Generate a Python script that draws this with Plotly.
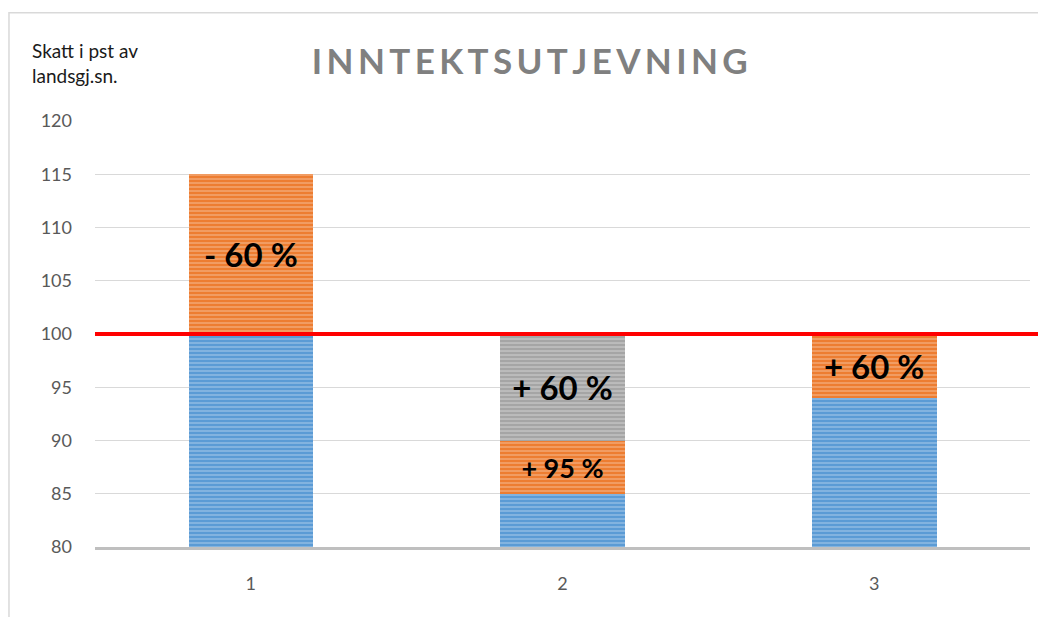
import plotly.graph_objects as go

CATEGORIES = ["1", "2", "3"]
BASE = [100, 85, 94]
ORANGE = [15, 5, 6]
GRAY = [0, 10, 0]
ORANGE_LABELS = ["- 60 %", "+ 95 %", "+ 60 %"]
GRAY_LABELS = ["", "+ 60 %", ""]
Y_TICKS = [80, 85, 90, 95, 100, 105, 110, 115, 120]
LEVEL = 100

TITLE = "INNTEKTSUTJEVNING"
FONT = "Lato"


def striped(color, light):
    return dict(
        color=color,
        line=dict(width=0),
        pattern=dict(shape="-", bgcolor=color, fgcolor=light, size=4, solidity=0.3),
    )


def main():
    fig = go.Figure()
    fig.add_trace(go.Bar(
        x=CATEGORIES, y=BASE, name="base",
        marker=striped("#5B9BD5", "#DEEBF7"),
    ))
    fig.add_trace(go.Bar(
        x=CATEGORIES, y=ORANGE, name="orange",
        marker=striped("#ED7D31", "#FBE5D6"),
        text=ORANGE_LABELS, textposition="inside", insidetextanchor="middle",
        textangle=0, textfont=dict(family=FONT, size=[33, 27, 33], color="black", weight="bold"),
    ))
    fig.add_trace(go.Bar(
        x=CATEGORIES, y=GRAY, name="gray",
        marker=striped("#A5A5A5", "#EDEDED"),
        text=GRAY_LABELS, textposition="inside", insidetextanchor="middle",
        textangle=0, textfont=dict(family=FONT, size=33, color="black", weight="bold"),
    ))

    # red reference line at landsgjennomsnittet
    fig.add_shape(type="line", xref="paper", x0=0, x1=1.011, yref="y", y0=LEVEL, y1=LEVEL,
                  line=dict(color="#FF0000", width=4), layer="above")
    # outer chart border (only top/left visible in the crop)
    fig.add_shape(type="rect", xref="paper", yref="paper", x0=-0.092, x1=1.2, y0=-0.5, y1=1.254,
                  line=dict(color="#D9D9D9", width=1.5), layer="below")

    fig.add_annotation(text="Skatt i pst av<br>landsgj.sn.", xref="paper", yref="paper",
                       x=-0.069, y=1.197, xanchor="left", yanchor="top", align="left",
                       showarrow=False, font=dict(family=FONT, size=19, color="#1a1a1a"))

    # page body has an 8px margin, so the figure is 8px smaller on each side
    fig.update_layout(
        width=1038, height=609,
        margin=dict(l=87, r=16, t=113, b=70),
        barmode="stack", bargap=0.6, showlegend=False,
        paper_bgcolor="white", plot_bgcolor="white",
        font=dict(family=FONT, size=18, color="#595959"),
        title=dict(text="\u2009".join(TITLE), x=0.465, xref="paper", xanchor="center",
                   y=0.912, yref="container", yanchor="middle",
                   font=dict(family=FONT, size=35, color="#808080", weight="bold")),
        xaxis=dict(showline=True, linecolor="#BFBFBF", linewidth=3, showgrid=False,
                   ticks="", ticklabelstandoff=18),
        yaxis=dict(range=[80, 120], tickvals=Y_TICKS, showgrid=True, gridcolor="#D9D9D9",
                   gridwidth=1, zeroline=False, ticks="", ticklabelstandoff=22),
    )
    fig.write_html("out.html")


if __name__ == "__main__":
    main()
